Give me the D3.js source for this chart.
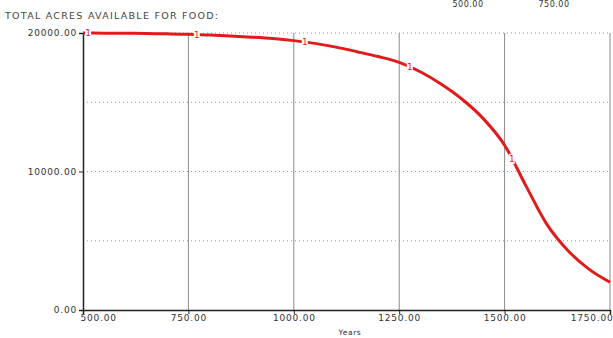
<!DOCTYPE html>
<html>
<head>
<meta charset="utf-8">
<script src="https://cdn.jsdelivr.net/npm/d3@7"></script>
<style>
  body { margin: 0; background: #fff; }
  svg { display: block; font-family: "DejaVu Sans", "Liberation Sans", Arial, sans-serif; }
</style>
</head>
<body>
<div id="chart"></div>
<script>
const years = [500, 550, 600, 650, 700, 750, 800, 850, 900, 950, 1000, 1050, 1100, 1150,
  1200, 1250, 1300, 1350, 1400, 1450, 1500, 1550, 1600, 1650, 1700, 1750];
const acres = [20000, 19990, 19980, 19960, 19940, 19910, 19850, 19780, 19700, 19600, 19450,
  19250, 18980, 18650, 18300, 17880, 17200, 16300, 15200, 13800, 11900, 9000, 6200, 4300, 2950, 2000];
const xTicks = [500, 750, 1000, 1250, 1500, 1750];
const yTicks = [0, 10000, 20000];
const yGrid = [5000, 10000, 15000, 20000];
const markerYears = [512, 770, 1026, 1275, 1517];
const topLabels = ["500.00", "750.00"];

const data = years.map((y, i) => ({ year: y, value: acres[i] }));

const width = 613, height = 338;
const svg = d3.select("#chart").append("svg")
  .attr("width", width).attr("height", height);

const x = d3.scaleLinear().domain([500, 1750]).range([83, 610]);
const y = d3.scaleLinear().domain([0, 20000]).range([310, 33]);

// labels at the very top (cut off in the original)
svg.selectAll("text.top").data(topLabels).enter().append("text")
  .attr("x", (d, i) => [468, 554][i]).attr("y", 7)
  .attr("text-anchor", "middle").attr("font-size", 8).attr("fill", "#333")
  .attr("letter-spacing", 0.5)
  .text(d => d);

svg.append("text").attr("x", 5).attr("y", 19)
  .attr("font-size", 9.5).attr("fill", "#444")
  .attr("textLength", 213).attr("lengthAdjust", "spacing")
  .text("TOTAL ACRES AVAILABLE FOR FOOD:");

// horizontal dotted grid
svg.append("g").selectAll("line").data(yGrid).enter().append("line")
  .attr("x1", x(500)).attr("x2", x(1750))
  .attr("y1", d => y(d)).attr("y2", d => y(d))
  .attr("stroke", "#999").attr("stroke-width", 1)
  .attr("stroke-dasharray", "1,3");

// vertical solid grid
svg.append("g").selectAll("line").data(xTicks.slice(1)).enter().append("line")
  .attr("x1", d => x(d)).attr("x2", d => x(d))
  .attr("y1", y(20000)).attr("y2", y(0))
  .attr("stroke", "#8a8a8a").attr("stroke-width", 1);

// axes
const xAxis = d3.axisBottom(x).tickValues(xTicks).tickSize(4).tickFormat(d3.format(".2f"));
const gx = svg.append("g").attr("transform", `translate(0,${y(0)})`).call(xAxis);
gx.select(".domain").attr("stroke", "#222");
gx.selectAll(".tick line").attr("stroke", "#222");
gx.selectAll(".tick text").attr("font-size", 9).attr("fill", "#333").attr("dy", "0.45em")
  .attr("font-family", "DejaVu Sans").attr("letter-spacing", 0.8)
  .attr("text-anchor", (d, i) => i === 0 ? "start" : i === xTicks.length - 1 ? "end" : "middle")
  .attr("dx", (d, i) => i === 0 ? -3 : i === xTicks.length - 1 ? 3 : 0);

const yAxis = d3.axisLeft(y).tickValues(yTicks).tickSize(4).tickFormat(d3.format(".2f"));
const gy = svg.append("g").attr("transform", `translate(${x(500)},0)`).call(yAxis);
gy.select(".domain").attr("stroke", "#222");
gy.selectAll(".tick line").attr("stroke", "#222");
gy.selectAll(".tick text").attr("font-size", 9).attr("fill", "#333")
  .attr("font-family", "DejaVu Sans").attr("letter-spacing", 0.8).attr("x", -6);
svg.selectAll(".domain").attr("stroke-width", 1.5);

svg.append("text").attr("x", 350).attr("y", 335)
  .attr("text-anchor", "middle").attr("font-size", 7.5).attr("fill", "#333")
  .attr("letter-spacing", 0.6)
  .text("Years");

// curve
const line = d3.line().x(d => x(d.year)).y(d => y(d.value)).curve(d3.curveMonotoneX);
svg.append("path").datum(data).attr("d", line)
  .attr("fill", "none").attr("stroke", "#e01b1b").attr("stroke-width", 3);

// "1" markers along the curve
const interp = yr => {
  const i = d3.bisectRight(years, yr) - 1;
  const j = Math.min(i + 1, years.length - 1);
  const t = j === i ? 0 : (yr - years[i]) / (years[j] - years[i]);
  return acres[i] + t * (acres[j] - acres[i]);
};
const mk = svg.append("g").selectAll("g").data(markerYears).enter().append("g")
  .attr("transform", d => `translate(${x(d)},${y(interp(d))})`);
mk.append("rect").attr("x", -3).attr("y", -5).attr("width", 6).attr("height", 10).attr("fill", "#fff");
mk.append("text").attr("text-anchor", "middle").attr("dy", "0.35em")
  .attr("font-size", 9).attr("fill", "#e01b1b").text("1");
</script>
</body>
</html>
